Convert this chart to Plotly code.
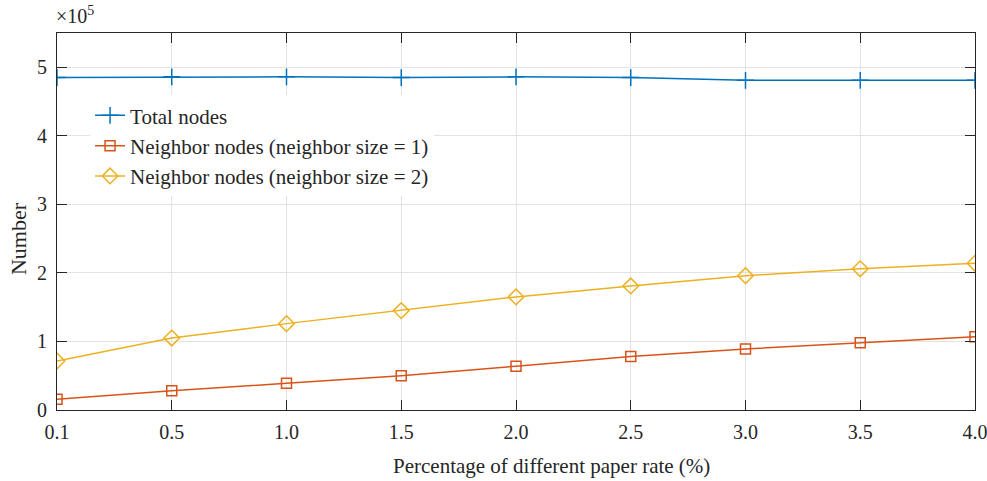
import plotly.graph_objects as go

rates = ["0.1", "0.5", "1.0", "1.5", "2.0", "2.5", "3.0", "3.5", "4.0"]
total_nodes = [4.85, 4.86, 4.86, 4.85, 4.86, 4.85, 4.81, 4.81, 4.81]
neighbor_1 = [0.156, 0.28, 0.39, 0.50, 0.64, 0.78, 0.89, 0.98, 1.07]
neighbor_2 = [0.716, 1.05, 1.26, 1.45, 1.65, 1.81, 1.96, 2.06, 2.14]
scale = 1e5
y_ticks = [0, 1, 2, 3, 4, 5]

FONT = "Liberation Serif, Times New Roman, serif"
AX = "#262626"
FS = 21

fig = go.Figure()
series = [
    ("Total nodes", total_nodes, "#0072BD", "cross-thin-open", 12),
    ("Neighbor nodes (neighbor size = 1)", neighbor_1, "#D95319", "square-open", 10),
    ("Neighbor nodes (neighbor size = 2)", neighbor_2, "#EDB120", "diamond-open", 12),
]
for name, vals, col, sym, sz in series:
    fig.add_trace(go.Scatter(
        x=rates, y=[v * scale for v in vals], name=name, mode="lines+markers",
        line=dict(color=col, width=1.5),
        marker=dict(symbol=sym, size=sz, color=col, line=dict(color=col, width=1.5)),
    ))

axis_common = dict(
    showline=True, linecolor=AX, linewidth=1.2, mirror="ticks",
    ticks="inside", ticklen=10, tickcolor=AX, tickwidth=1.2,
    showgrid=True, gridcolor="#e3e3e3", gridwidth=1, zeroline=False,
    tickfont=dict(family=FONT, size=20, color=AX), automargin=False,
)
fig.update_xaxes(type="category", range=[0, 8], ticklabelstandoff=4, **axis_common)
fig.update_yaxes(
    range=[0, 5.5 * scale], tickvals=[t * scale for t in y_ticks], ticktext=[str(t) for t in y_ticks],
    ticklabelstandoff=5, **axis_common,
)
# axis titles (placed as in the reference)
fig.add_annotation(
    xref="paper", yref="paper", x=0.539, y=-0.1485, xanchor="center", yanchor="middle",
    text="Percentage of different paper rate (%)", showarrow=False,
    font=dict(family=FONT, size=21, color=AX),
)
fig.add_annotation(
    xref="paper", yref="paper", x=-0.0425, y=0.456, xanchor="center", yanchor="middle",
    text="Number", textangle=-90, showarrow=False,
    font=dict(family=FONT, size=22, color=AX),
)
fig.add_annotation(
    xref="paper", yref="paper", x=0, y=1, xanchor="left", yanchor="bottom", yshift=4, xshift=-3,
    text="×10<sup>5</sup>", showarrow=False, font=dict(family=FONT, size=20, color=AX),
)
fig.update_layout(
    width=987, height=481,
    margin=dict(l=57, r=12, t=33, b=71),
    plot_bgcolor="white", paper_bgcolor="white",
    font=dict(family=FONT, size=FS, color=AX),
    showlegend=True,
    legend=dict(
        x=0.036, y=0.835, xanchor="left", yanchor="top",
        bgcolor="white", borderwidth=0,
        font=dict(family=FONT, size=FS, color=AX),
        itemwidth=30, tracegroupgap=0,
    ),
)
fig.write_html("out.html", config={"displayModeBar": False},
               post_script="document.body.style.margin='0';document.body.style.overflow='hidden';")
